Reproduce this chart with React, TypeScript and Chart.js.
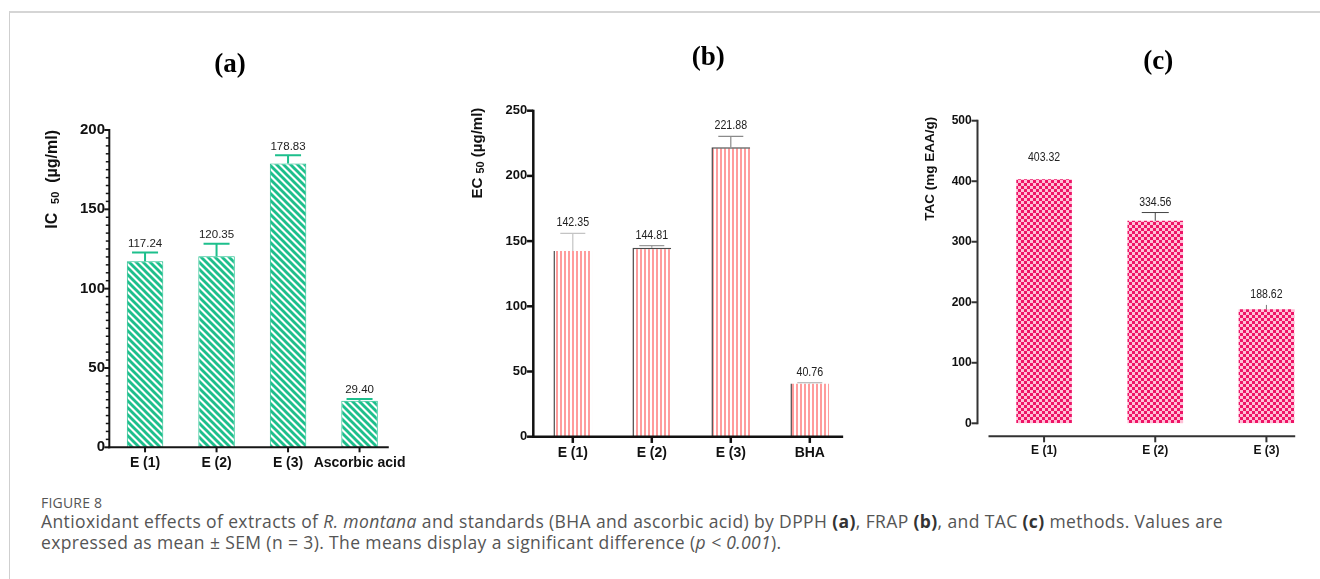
import React, { useEffect, useRef } from "react";
import { Chart, registerables } from "chart.js";
Chart.register(...registerables);

// ---------- data ----------
const catsA = ["E (1)", "E (2)", "E (3)", "Ascorbic acid"];
const valsA = [117.24, 120.35, 178.83, 29.4];
const errA = [5.5, 8.0, 5.2, 1.0];
const ticksA = [0, 50, 100, 150, 200];

const catsB = ["E (1)", "E (2)", "E (3)", "BHA"];
const valsB = [142.35, 144.81, 221.88, 40.76];
const errB = [13.6, 1.7, 8.5, 0.6];
const ticksB = [0, 50, 100, 150, 200, 250];

const catsC = ["E (1)", "E (2)", "E (3)"];
const valsC = [403.32, 334.56, 188.62];
const errC = [18.8, 13.7, 7.0];
const ticksC = [0, 100, 200, 300, 400, 500];

const SANS = '"Liberation Sans", Arial, sans-serif';
const SERIF = '"Liberation Serif", "Times New Roman", serif';

function makeTile(size: number, draw: (c: CanvasRenderingContext2D) => void) {
  const t = document.createElement("canvas");
  t.width = size;
  t.height = size;
  const c = t.getContext("2d")!;
  draw(c);
  return t;
}

function stripePattern(ctx: CanvasRenderingContext2D) {
  const s = 7;
  const tile = makeTile(s, (c) => {
    c.fillStyle = "#ffffff";
    c.fillRect(0, 0, s, s);
    c.strokeStyle = "#1dbf8c";
    c.lineWidth = 2.9;
    for (const k of [-s, 0, s]) {
      c.beginPath();
      c.moveTo(k - 1, -1);
      c.lineTo(k + s + 1, s + 1);
      c.stroke();
    }
  });
  return ctx.createPattern(tile, "repeat")!;
}

function vStripePattern(ctx: CanvasRenderingContext2D) {
  const s = 4;
  const tile = makeTile(s, (c) => {
    c.fillStyle = "#ffffff";
    c.fillRect(0, 0, s, s);
    c.fillStyle = "#ff9c9c";
    c.fillRect(0, 0, 2, s);
  });
  return ctx.createPattern(tile, "repeat")!;
}

function checkerPattern(ctx: CanvasRenderingContext2D) {
  const s = 6;
  const tile = makeTile(s, (c) => {
    c.fillStyle = "#ee1467";
    c.fillRect(0, 0, s, s);
    c.fillStyle = "#ffbfd6";
    c.fillRect(0, 0, 3, 3);
    c.fillRect(3, 3, 3, 3);
  });
  return ctx.createPattern(tile, "repeat")!;
}

type Panel = {
  box: { left: number; top: number; width: number; height: number };
  padTop: number;
  padRight: number;
  yWidth: number;
  xHeight: number;
  cats: string[];
  vals: number[];
  errs: number[];
  ticks: number[];
  minorStep: number;
  title: string;
  titleX: number;
  titleY: number;
  yTitle: string[];
  yTitleSizes: number[];
  yTitleX: number;
  yTitleGap: number;
  yTickFont: number;
  xTickFont: number;
  yPad: number;
  xPad: number;
  yGap: number;
  xGap: number;
  xExtend: number;
  axisColor: string;
  axisW: number;
  tickLen: number;
  errColor: string[];
  errW: number;
  capW: number[];
  labelFont: string;
  labelScaleX: number;
  labelGap: number;
  barPct: number;
  pattern: (ctx: CanvasRenderingContext2D) => CanvasPattern;
  borderColor: string;
  borderWidth: (i: number) => any;
};

const panels: Panel[] = [
  {
    box: { left: 30, top: 30, width: 400, height: 460 },
    padTop: 100,
    padRight: 34.7,
    yWidth: 79.3,
    xHeight: 42.7,
    cats: catsA,
    vals: valsA,
    errs: errA,
    ticks: ticksA,
    minorStep: 5,
    title: "(a)",
    titleX: 200,
    titleY: 35,
    yTitle: ["IC  ", "50", "  (µg/ml)"],
    yTitleSizes: [16, 11, 16],
    yTitleX: 23,
    yTitleGap: 0,
    yTickFont: 15,
    xTickFont: 14,
    yPad: 4.3,
    xPad: 7,
    yGap: 0,
    xGap: 0,
    xExtend: 11,
    axisColor: "#161616",
    axisW: 2,
    tickLen: 4,
    errColor: ["#1dbf8c", "#1dbf8c", "#1dbf8c", "#1dbf8c"],
    errW: 2,
    capW: [26, 26, 26, 26],
    labelFont: `11.5px ${SANS}`,
    labelScaleX: 1,
    labelGap: 9,
    barPct: 0.51,
    pattern: stripePattern,
    borderColor: "#1dbf8c",
    borderWidth: () => 1,
  },
  {
    box: { left: 440, top: 30, width: 430, height: 460 },
    padTop: 80.7,
    padRight: 20.7,
    yWidth: 93.3,
    xHeight: 53.3,
    cats: catsB,
    vals: valsB,
    errs: errB,
    ticks: ticksB,
    minorStep: 0,
    title: "(b)",
    titleX: 268.3,
    titleY: 28.3,
    yTitle: ["EC ", "50", " (µg/ml)"],
    yTitleSizes: [15, 11, 15],
    yTitleX: 38.3,
    yTitleGap: 3,
    yTickFont: 13,
    xTickFont: 14,
    yPad: 6,
    xPad: 8,
    yGap: 0,
    xGap: 0,
    xExtend: 14,
    axisColor: "#111111",
    axisW: 2.5,
    tickLen: 5,
    errColor: ["#c4c4c4", "#9a9a9a", "#8a8a8a", "#aaaaaa"],
    errW: 1.2,
    capW: [25, 25, 25, 25],
    labelFont: `13px ${SANS}`,
    labelScaleX: 0.82,
    labelGap: 10.7,
    barPct: 0.49,
    pattern: vStripePattern,
    borderColor: "#4a4a4a",
    borderWidth: (i: number) => ({ left: 1.5, top: i === 1 || i === 2 ? 1.5 : 0, right: 0, bottom: 0 }),
  },
  {
    box: { left: 880, top: 30, width: 442, height: 460 },
    padTop: 90.7,
    padRight: 0,
    yWidth: 108.5,
    xHeight: 66.7,
    cats: catsC,
    vals: valsC,
    errs: errC,
    ticks: ticksC,
    minorStep: 0,
    title: "(c)",
    titleX: 278.3,
    titleY: 31.7,
    yTitle: ["TAC (mg EAA/g)"],
    yTitleSizes: [13.5],
    yTitleX: 50,
    yTitleGap: 4,
    yTickFont: 12,
    xTickFont: 12,
    yPad: 16.8,
    xPad: 20,
    yGap: 11,
    xGap: 13,
    xExtend: 1,
    axisColor: "#333333",
    axisW: 2,
    tickLen: 5,
    errColor: ["rgba(0,0,0,0)", "#444444", "#777777"],
    errW: 1,
    capW: [0, 27, 0],
    labelFont: `13.5px ${SANS}`,
    labelScaleX: 0.78,
    labelGap: 10.5,
    barPct: 0.5,
    pattern: checkerPattern,
    borderColor: "rgba(0,0,0,0)",
    borderWidth: () => 0,
  },
];

function decorPlugin(p: Panel) {
  return {
    id: "decor",
    afterDraw(chart: any) {
      const ctx: CanvasRenderingContext2D = chart.ctx;
      const ys = chart.scales.y;
      const xs = chart.scales.x;
      const ca = chart.chartArea;
      const meta = chart.getDatasetMeta(0);
      const maxV = p.ticks[p.ticks.length - 1];
      const ax = ca.left - p.yGap;
      const yTop = ys.getPixelForValue(maxV);
      const y0 = ys.getPixelForValue(0);
      const xAxisY = ca.bottom + p.xGap;
      ctx.save();
      ctx.strokeStyle = p.axisColor;
      ctx.lineWidth = p.axisW;
      ctx.lineCap = "butt";
      // y axis
      ctx.beginPath();
      ctx.moveTo(ax, yTop - 1);
      ctx.lineTo(ax, p.xGap === 0 ? xAxisY + p.axisW / 2 : y0 + 1);
      ctx.stroke();
      for (const v of p.ticks) {
        const y = ys.getPixelForValue(v);
        ctx.beginPath();
        ctx.moveTo(ax - p.tickLen - p.axisW / 2, y);
        ctx.lineTo(ax, y);
        ctx.stroke();
      }
      if (p.minorStep > 0) {
        ctx.lineWidth = 1.5;
        for (let v = 0; v <= maxV; v += p.minorStep) {
          if (p.ticks.includes(v)) continue;
          const y = ys.getPixelForValue(v);
          ctx.beginPath();
          ctx.moveTo(ax - 2.5 - p.axisW / 2, y);
          ctx.lineTo(ax, y);
          ctx.stroke();
        }
        ctx.lineWidth = p.axisW;
      }
      // x axis
      const last = meta.data[meta.data.length - 1];
      const xEnd = last.x + last.width / 2 + p.xExtend;
      const xStart = p.xGap === 0 ? ax - p.axisW / 2 : ca.left;
      ctx.beginPath();
      ctx.moveTo(xStart, xAxisY);
      ctx.lineTo(xEnd, xAxisY);
      ctx.stroke();
      for (let i = 0; i < p.cats.length; i++) {
        const x = xs.getPixelForValue(i);
        ctx.beginPath();
        ctx.moveTo(x, xAxisY);
        ctx.lineTo(x, xAxisY + p.tickLen + p.axisW / 2);
        ctx.stroke();
      }
      // error bars + value labels
      for (let i = 0; i < p.vals.length; i++) {
        const bar = meta.data[i];
        const yb = ys.getPixelForValue(p.vals[i]);
        const ye = ys.getPixelForValue(p.vals[i] + p.errs[i]);
        ctx.strokeStyle = p.errColor[i];
        ctx.lineWidth = p.errW;
        ctx.beginPath();
        ctx.moveTo(bar.x, yb);
        ctx.lineTo(bar.x, ye);
        if (p.capW[i] > 0) {
          ctx.moveTo(bar.x - p.capW[i] / 2, ye);
          ctx.lineTo(bar.x + p.capW[i] / 2, ye);
        }
        ctx.stroke();
        ctx.save();
        ctx.translate(bar.x, ye - p.labelGap);
        ctx.scale(p.labelScaleX, 1);
        ctx.fillStyle = "#222222";
        ctx.font = p.labelFont;
        ctx.textAlign = "center";
        ctx.textBaseline = "middle";
        ctx.fillText(p.vals[i].toFixed(2), 0, 0);
        ctx.restore();
      }
      // y title (rotated, with subscript)
      ctx.save();
      ctx.translate(p.yTitleX, yTop - p.yTitleGap);
      ctx.rotate(-Math.PI / 2);
      ctx.fillStyle = "#111111";
      ctx.textBaseline = "middle";
      ctx.textAlign = "left";
      const fonts = p.yTitleSizes.map((s) => `bold ${s}px ${SANS}`);
      let total = 0;
      const widths = p.yTitle.map((t, k) => {
        ctx.font = fonts[k];
        const w = ctx.measureText(t).width;
        total += w;
        return w;
      });
      let cx = -total;
      p.yTitle.forEach((t, k) => {
        ctx.font = fonts[k];
        const sub = p.yTitleSizes[k] < p.yTitleSizes[0];
        ctx.fillText(t, cx, sub ? 2.5 : 0);
        cx += widths[k];
      });
      ctx.restore();
      // panel title
      ctx.fillStyle = "#000000";
      ctx.font = `bold 27px ${SERIF}`;
      ctx.textAlign = "center";
      ctx.textBaseline = "middle";
      ctx.fillText(p.title, p.titleX, p.titleY);
      ctx.restore();
    },
  };
}

function PanelChart({ p }: { p: Panel }) {
  const ref = useRef<HTMLCanvasElement | null>(null);
  useEffect(() => {
    const canvas = ref.current!;
    const ctx = canvas.getContext("2d")!;
    const maxV = p.ticks[p.ticks.length - 1];
    const chart = new Chart(ctx, {
      type: "bar",
      data: {
        labels: p.cats,
        datasets: [
          {
            data: p.vals,
            backgroundColor: p.pattern(ctx),
            borderColor: p.borderColor,
            borderWidth: (c: any) => p.borderWidth(c.dataIndex),
            barPercentage: p.barPct,
            categoryPercentage: 1,
          } as any,
        ],
      },
      options: {
        animation: false,
        responsive: false,
        devicePixelRatio: 1,
        layout: { padding: { top: p.padTop, right: p.padRight, left: 0, bottom: 0 } },
        plugins: { legend: { display: false }, tooltip: { enabled: false }, title: { display: false } },
        scales: {
          x: {
            offset: true,
            grid: { display: false, drawTicks: false },
            border: { display: false },
            ticks: {
              font: { family: SANS, weight: "bold", size: p.xTickFont },
              color: "#111111",
              padding: p.xPad,
              maxRotation: 0,
              autoSkip: false,
            },
            afterFit: (s: any) => {
              s.height = p.xHeight;
            },
          },
          y: {
            min: 0,
            max: maxV,
            grid: { display: false, drawTicks: false },
            border: { display: false },
            ticks: {
              stepSize: p.ticks[1] - p.ticks[0],
              font: { family: SANS, weight: "bold", size: p.yTickFont },
              color: "#111111",
              padding: p.yPad,
            },
            afterFit: (s: any) => {
              s.width = p.yWidth;
            },
          },
        },
      } as any,
      plugins: [decorPlugin(p)],
    });
    return () => chart.destroy();
  }, [p]);
  return (
    <canvas
      ref={ref}
      width={p.box.width}
      height={p.box.height}
      style={{
        position: "absolute",
        left: p.box.left,
        top: p.box.top,
        width: p.box.width,
        height: p.box.height,
      }}
    />
  );
}

export default function App() {
  const capFont = '"Open Sans", "Noto Sans", sans-serif';
  return (
    <div
      style={{
        position: "absolute",
        left: 0,
        top: 0,
        width: 1320,
        height: 579,
        overflow: "hidden",
        background: "#ffffff",
      }}
    >
      <div
        style={{
          position: "absolute",
          left: 9,
          top: 11,
          right: -5,
          bottom: -5,
          borderTop: "2px solid #d5d5d5",
          borderLeft: "1px solid #cfcfcf",
        }}
      />
      {panels.map((p, i) => (
        <PanelChart key={i} p={p} />
      ))}
      <div
        style={{
          position: "absolute",
          left: 41,
          top: 494,
          fontFamily: capFont,
          fontSize: 14,
          lineHeight: "18px",
          color: "#555555",
          letterSpacing: "0.2px",
        }}
      >
        FIGURE 8
      </div>
      <div
        style={{
          position: "absolute",
          left: 41,
          top: 511,
          width: 1275,
          fontFamily: capFont,
          fontSize: 17.5,
          lineHeight: "20.5px",
          letterSpacing: "0.38px",
          color: "#555555",
          whiteSpace: "nowrap",
        }}
      >
        Antioxidant effects of extracts of <i>R. montana</i> and standards (BHA and ascorbic acid) by DPPH{" "}
        <b style={{ color: "#333" }}>(a)</b>, FRAP <b style={{ color: "#333" }}>(b)</b>, and TAC{" "}
        <b style={{ color: "#333" }}>(c)</b> methods. Values are
        <br />
        expressed as mean ± SEM (n = 3). The means display a significant difference (<i>p &lt; 0.001</i>).
      </div>
    </div>
  );
}
